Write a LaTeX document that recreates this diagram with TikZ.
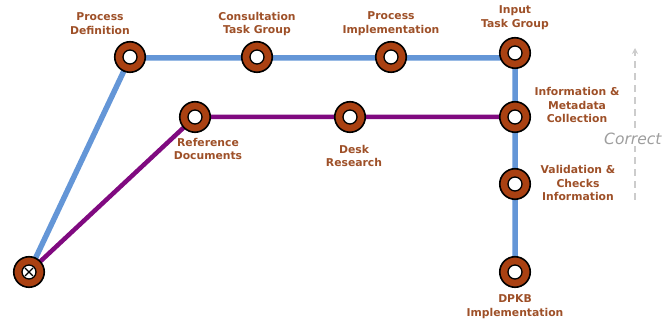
\documentclass[tikz,border=0pt]{standalone}
\usepackage{fontspec}
\setmainfont{DejaVu Sans}
\usetikzlibrary{arrows.meta}
\pgfdeclarelayer{bg}
\pgfsetlayers{bg,main}
\definecolor{ringbrown}{RGB}{170,65,18}
\definecolor{labelbrown}{RGB}{158,80,40}
\definecolor{lineblue}{RGB}{100,150,215}
\definecolor{linepurple}{RGB}{128,10,128}
\begin{document}
\begin{tikzpicture}[x=1pt,y=-1pt,
  stop/.style={circle,draw=black,line width=1.6pt,fill=ringbrown,minimum size=30.5pt,inner sep=0pt,
    path picture={\filldraw[fill=white,draw=black,line width=1.3pt] (path picture bounding box.center) circle (7pt);}},
  startstop/.style={stop,
    path picture={\filldraw[fill=white,draw=black,line width=1.3pt] (path picture bounding box.center) circle (7pt);
      \draw[black,line width=1.1pt] ([shift={(-4pt,-4pt)}]path picture bounding box.center) -- ([shift={(4pt,4pt)}]path picture bounding box.center)
        ([shift={(-4pt,4pt)}]path picture bounding box.center) -- ([shift={(4pt,-4pt)}]path picture bounding box.center);}},
  lbl/.style={font=\fontsize{10.8}{13.8}\selectfont\bfseries,text=labelbrown,align=center,inner sep=0pt},
  blueline/.style={draw=lineblue,line width=5.5pt},
  purpleline/.style={draw=linepurple,line width=4.5pt}]
\useasboundingbox (0,0) rectangle (662,320);
\clip (0,0) rectangle (662,320);
% stops
\node[startstop] (start) at (29,272) {};
\node[stop] (pd) at (130,57) {};
\node[stop] (ctg) at (257,57) {};
\node[stop] (pi) at (391,57) {};
\node[stop] (itg) at (515,53) {};
\node[stop] (imc) at (515,117) {};
\node[stop] (vci) at (515,184) {};
\node[stop] (dpkb) at (515,272) {};
\node[stop] (rd) at (195,117) {};
\node[stop] (dr) at (350,117) {};
\coordinate (bend) at (515,58);
\coordinate (pdl) at (130,58);
% lines behind the stops
\begin{pgfonlayer}{bg}
\draw[blueline,line join=round] (start.center) -- (pdl) -- (bend) -- (dpkb.center);
\draw[blueline] (itg.center) -- (bend);
\draw[purpleline,line join=round] (start.center) -- (rd.center) -- (imc.center);
\end{pgfonlayer}
% labels
\node[lbl] (lpd) at (100,24) {Process\\Definition};
\node[lbl] (lctg) at (257,24) {Consultation\\Task Group};
\node[lbl] (lpi) at (391,24) {Process\\Implementation};
\node[lbl] (litg) at (515,18) {Input\\Task Group};
\node[lbl] (limc) at (577,105) {Information \&\\Metadata\\Collection};
\node[lbl] (lvci) at (578,183) {Validation \&\\Checks\\Information};
\node[lbl] (ldpkb) at (515,307) {DPKB\\Implementation};
\node[lbl] (lrd) at (208,149) {Reference\\Documents};
\node[lbl] (ldr) at (354,156) {Desk\\Research};
% correction arrow
\coordinate (cbot) at (635,200);
\coordinate (ctop) at (635,48);
\draw[draw=black!20,line width=1.4pt,dash pattern=on 7pt off 5pt,-{Stealth[length=6pt,width=6pt]}] (cbot) -- (ctop);
\node[font=\fontsize{15.5}{18}\selectfont\itshape,text=black!38,fill=white,inner sep=1pt,anchor=west] (corr) at (603,139) {Correct};
\end{tikzpicture}
\end{document}
